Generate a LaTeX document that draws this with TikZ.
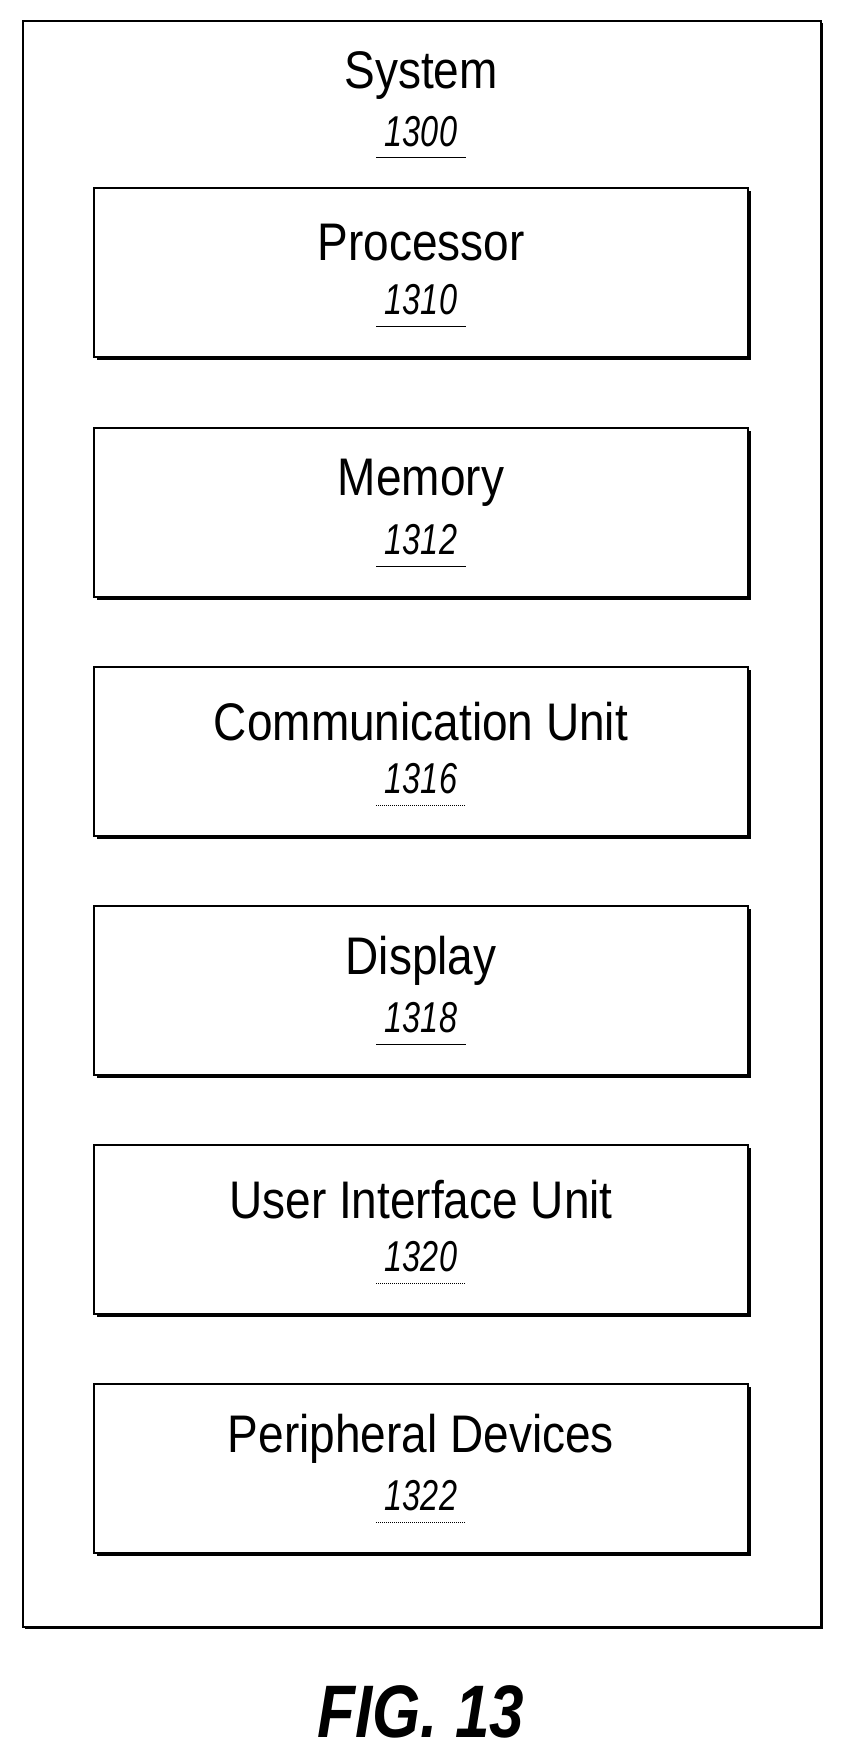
\documentclass[tikz,border=0pt]{standalone}
\usepackage{fontspec}
\setmainfont{Liberation Sans}
\begin{document}
\begin{tikzpicture}[x=1pt,y=-1pt,
  box/.style={draw,line width=1.6pt,fill=white,minimum width=654pt,minimum height=169pt,anchor=north},
  lbl/.style={font=\fontsize{46}{50}\selectfont},
  num/.style={font=\fontsize{36}{40}\selectfont\itshape}]
\useasboundingbox (0,0) rectangle (842,1757);
\fill[black] (25,23) rectangle (823,1629);
\node[draw,line width=1.6pt,fill=white,minimum width=798pt,minimum height=1606pt,anchor=north west] (sys) at (22,20) {};
\node[lbl] (st) at (421,76) {\scalebox{1}[1.15]{System}};
\node[num] (sn) at (421,132) {\scalebox{0.9}[1.2]{1300}};
\draw[line width=1pt] (376,157) -- (466,157);
\foreach \n/\t/\num/\y/\ds in {p/Processor/1310/187/0, m/Memory/1312/427/0, c/Communication Unit/1316/666/1, d/Display/1318/905/0, u/User Interface Unit/1320/1144/1, q/Peripheral Devices/1322/1383/1}{
  \fill[black] (97,\y+4) rectangle (751,\y+173);
  \node[box] (\n) at (421,\y) {};
  \node[lbl] (\n t) at (421,\y+56) {\scalebox{1}[1.15]{\t}};
  \node[num] (\n n) at (421,\y+113) {\scalebox{0.9}[1.2]{\num}};
  \ifnum\ds=1
    \draw[line width=1pt,densely dotted] (376,\y+139) -- (466,\y+139);
  \else
    \draw[line width=1pt] (376,\y+139) -- (466,\y+139);
  \fi
}
\node[font=\fontsize{62}{68}\selectfont\bfseries\itshape] (fig) at (421,1712) {\scalebox{1}[1.2]{FIG. 13}};
\end{tikzpicture}
\end{document}
